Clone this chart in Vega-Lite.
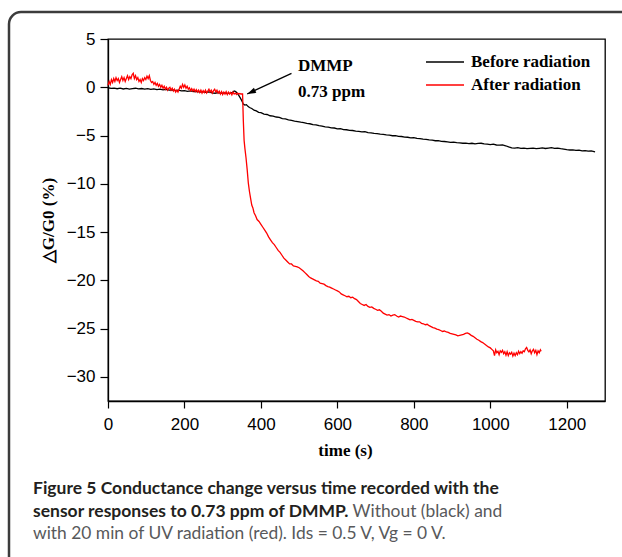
{
  "$schema": "https://vega.github.io/schema/vega-lite/v6.json",
  "width": 497,
  "height": 362,
  "autosize": {"type": "none"},
  "padding": {"left": 108, "top": 39, "right": 17, "bottom": 156},
  "background": "white",
  "config": {
    "view": {"stroke": "#000000", "strokeWidth": 1.3},
    "axis": {
      "domainColor": "#000000", "domainWidth": 1.3,
      "tickColor": "#000000", "tickWidth": 1.2,
      "labelFont": "Liberation Sans", "labelFontSize": 17, "labelColor": "#000000",
      "titleFont": "Liberation Serif", "titleFontSize": 17, "titleFontWeight": "bold", "titleColor": "#000000",
      "grid": false, "labelOverlap": false, "labelFlush": false
    }
  },
  "title": {
    "text": ["Figure 5 Conductance change versus time recorded with the", "sensor responses to 0.73 ppm of DMMP."],
    "subtitle": ["\u200b\u2003\u2003\u2003\u2003\u2003\u2003\u2003\u2003\u2003\u2003\u2003\u2003\u2003\u2003\u2003\u2003\u2003\u2003\u2003\u2003\u2003\u2003\u2003\u2002\u2002\u2009Without (black) and", "with 20 min of UV radiation (red). Ids = 0.5 V, Vg = 0 V."],
    "orient": "bottom", "anchor": "start", "frame": "group",
    "dx": -75, "offset": -90,
    "font": "Lato", "fontSize": 17.5, "fontWeight": "bold", "color": "#231f20", "lineHeight": 22.5,
    "subtitleFont": "Lato", "subtitleFontSize": 17.4, "subtitleFontWeight": "normal", "subtitleColor": "#58595b",
    "subtitleLineHeight": 22.5, "subtitlePadding": -17.5
  },
  "datasets": {
    "curves": [
      {"s":"Before radiation","t":0,"v":-0.05},{"s":"Before radiation","t":8,"v":-0.12},{"s":"Before radiation","t":16,"v":-0.08},{"s":"Before radiation","t":24,"v":-0.15},{"s":"Before radiation","t":32,"v":-0.1},{"s":"Before radiation","t":40,"v":-0.18},{"s":"Before radiation","t":48,"v":-0.12},{"s":"Before radiation","t":56,"v":-0.2},{"s":"Before radiation","t":64,"v":-0.14},{"s":"Before radiation","t":72,"v":-0.1},{"s":"Before radiation","t":80,"v":-0.17},{"s":"Before radiation","t":88,"v":-0.13},{"s":"Before radiation","t":96,"v":-0.2},{"s":"Before radiation","t":104,"v":-0.15},{"s":"Before radiation","t":112,"v":-0.22},{"s":"Before radiation","t":120,"v":-0.16},{"s":"Before radiation","t":128,"v":-0.24},{"s":"Before radiation","t":136,"v":-0.2},{"s":"Before radiation","t":144,"v":-0.27},{"s":"Before radiation","t":152,"v":-0.22},{"s":"Before radiation","t":160,"v":-0.3},{"s":"Before radiation","t":168,"v":-0.26},{"s":"Before radiation","t":176,"v":-0.34},{"s":"Before radiation","t":184,"v":-0.3},{"s":"Before radiation","t":192,"v":-0.38},{"s":"Before radiation","t":200,"v":-0.34},{"s":"Before radiation","t":208,"v":-0.42},{"s":"Before radiation","t":216,"v":-0.38},{"s":"Before radiation","t":224,"v":-0.46},{"s":"Before radiation","t":232,"v":-0.42},{"s":"Before radiation","t":240,"v":-0.5},{"s":"Before radiation","t":248,"v":-0.45},{"s":"Before radiation","t":256,"v":-0.53},{"s":"Before radiation","t":264,"v":-0.48},{"s":"Before radiation","t":272,"v":-0.57},{"s":"Before radiation","t":280,"v":-0.62},{"s":"Before radiation","t":288,"v":-0.56},{"s":"Before radiation","t":296,"v":-0.64},{"s":"Before radiation","t":304,"v":-0.58},{"s":"Before radiation","t":312,"v":-0.66},{"s":"Before radiation","t":320,"v":-0.6},{"s":"Before radiation","t":326,"v":-0.52},{"s":"Before radiation","t":330,"v":-0.38},{"s":"Before radiation","t":334,"v":-0.45},{"s":"Before radiation","t":338,"v":-0.62},{"s":"Before radiation","t":342,"v":-0.85},{"s":"Before radiation","t":346,"v":-1.1},{"s":"Before radiation","t":350,"v":-1.4},{"s":"Before radiation","t":354,"v":-1.75},{"s":"Before radiation","t":358,"v":-1.85},{"s":"Before radiation","t":362,"v":-1.8},{"s":"Before radiation","t":366,"v":-1.98},{"s":"Before radiation","t":370,"v":-2.1},{"s":"Before radiation","t":376,"v":-2.2},{"s":"Before radiation","t":382,"v":-2.38},{"s":"Before radiation","t":388,"v":-2.45},{"s":"Before radiation","t":394,"v":-2.6},{"s":"Before radiation","t":400,"v":-2.62},{"s":"Before radiation","t":408,"v":-2.78},{"s":"Before radiation","t":416,"v":-2.82},{"s":"Before radiation","t":424,"v":-2.95},{"s":"Before radiation","t":432,"v":-2.98},{"s":"Before radiation","t":440,"v":-3.08},{"s":"Before radiation","t":448,"v":-3.12},{"s":"Before radiation","t":456,"v":-3.25},{"s":"Before radiation","t":464,"v":-3.28},{"s":"Before radiation","t":472,"v":-3.38},{"s":"Before radiation","t":480,"v":-3.42},{"s":"Before radiation","t":488,"v":-3.5},{"s":"Before radiation","t":496,"v":-3.55},{"s":"Before radiation","t":504,"v":-3.62},{"s":"Before radiation","t":512,"v":-3.66},{"s":"Before radiation","t":520,"v":-3.75},{"s":"Before radiation","t":528,"v":-3.78},{"s":"Before radiation","t":536,"v":-3.88},{"s":"Before radiation","t":544,"v":-3.9},{"s":"Before radiation","t":552,"v":-3.98},{"s":"Before radiation","t":560,"v":-4.02},{"s":"Before radiation","t":568,"v":-4.1},{"s":"Before radiation","t":576,"v":-4.12},{"s":"Before radiation","t":584,"v":-4.2},{"s":"Before radiation","t":592,"v":-4.22},{"s":"Before radiation","t":600,"v":-4.3},{"s":"Before radiation","t":608,"v":-4.28},{"s":"Before radiation","t":616,"v":-4.38},{"s":"Before radiation","t":624,"v":-4.4},{"s":"Before radiation","t":632,"v":-4.46},{"s":"Before radiation","t":640,"v":-4.48},{"s":"Before radiation","t":648,"v":-4.55},{"s":"Before radiation","t":656,"v":-4.56},{"s":"Before radiation","t":664,"v":-4.62},{"s":"Before radiation","t":672,"v":-4.6},{"s":"Before radiation","t":680,"v":-4.7},{"s":"Before radiation","t":688,"v":-4.72},{"s":"Before radiation","t":696,"v":-4.78},{"s":"Before radiation","t":704,"v":-4.8},{"s":"Before radiation","t":712,"v":-4.86},{"s":"Before radiation","t":720,"v":-4.88},{"s":"Before radiation","t":728,"v":-4.94},{"s":"Before radiation","t":736,"v":-4.96},{"s":"Before radiation","t":744,"v":-5.02},{"s":"Before radiation","t":752,"v":-5.0},{"s":"Before radiation","t":760,"v":-5.08},{"s":"Before radiation","t":768,"v":-5.1},{"s":"Before radiation","t":776,"v":-5.16},{"s":"Before radiation","t":784,"v":-5.18},{"s":"Before radiation","t":792,"v":-5.24},{"s":"Before radiation","t":800,"v":-5.22},{"s":"Before radiation","t":808,"v":-5.3},{"s":"Before radiation","t":816,"v":-5.32},{"s":"Before radiation","t":824,"v":-5.38},{"s":"Before radiation","t":832,"v":-5.4},{"s":"Before radiation","t":840,"v":-5.46},{"s":"Before radiation","t":848,"v":-5.48},{"s":"Before radiation","t":856,"v":-5.54},{"s":"Before radiation","t":864,"v":-5.52},{"s":"Before radiation","t":872,"v":-5.6},{"s":"Before radiation","t":880,"v":-5.62},{"s":"Before radiation","t":888,"v":-5.66},{"s":"Before radiation","t":896,"v":-5.7},{"s":"Before radiation","t":904,"v":-5.68},{"s":"Before radiation","t":912,"v":-5.74},{"s":"Before radiation","t":920,"v":-5.76},{"s":"Before radiation","t":928,"v":-5.8},{"s":"Before radiation","t":936,"v":-5.78},{"s":"Before radiation","t":944,"v":-5.84},{"s":"Before radiation","t":952,"v":-5.8},{"s":"Before radiation","t":960,"v":-5.86},{"s":"Before radiation","t":968,"v":-5.82},{"s":"Before radiation","t":976,"v":-5.8},{"s":"Before radiation","t":984,"v":-5.86},{"s":"Before radiation","t":992,"v":-5.9},{"s":"Before radiation","t":1000,"v":-5.94},{"s":"Before radiation","t":1008,"v":-5.9},{"s":"Before radiation","t":1016,"v":-5.98},{"s":"Before radiation","t":1024,"v":-6.0},{"s":"Before radiation","t":1032,"v":-5.98},{"s":"Before radiation","t":1040,"v":-6.06},{"s":"Before radiation","t":1048,"v":-6.18},{"s":"Before radiation","t":1056,"v":-6.28},{"s":"Before radiation","t":1064,"v":-6.3},{"s":"Before radiation","t":1072,"v":-6.26},{"s":"Before radiation","t":1080,"v":-6.32},{"s":"Before radiation","t":1088,"v":-6.3},{"s":"Before radiation","t":1096,"v":-6.36},{"s":"Before radiation","t":1104,"v":-6.32},{"s":"Before radiation","t":1112,"v":-6.3},{"s":"Before radiation","t":1120,"v":-6.36},{"s":"Before radiation","t":1128,"v":-6.32},{"s":"Before radiation","t":1136,"v":-6.28},{"s":"Before radiation","t":1144,"v":-6.34},{"s":"Before radiation","t":1152,"v":-6.3},{"s":"Before radiation","t":1160,"v":-6.26},{"s":"Before radiation","t":1168,"v":-6.32},{"s":"Before radiation","t":1176,"v":-6.3},{"s":"Before radiation","t":1184,"v":-6.36},{"s":"Before radiation","t":1192,"v":-6.4},{"s":"Before radiation","t":1200,"v":-6.46},{"s":"Before radiation","t":1208,"v":-6.5},{"s":"Before radiation","t":1216,"v":-6.48},{"s":"Before radiation","t":1224,"v":-6.54},{"s":"Before radiation","t":1232,"v":-6.52},{"s":"Before radiation","t":1240,"v":-6.58},{"s":"Before radiation","t":1248,"v":-6.56},{"s":"Before radiation","t":1256,"v":-6.62},{"s":"Before radiation","t":1264,"v":-6.6},{"s":"Before radiation","t":1274,"v":-6.7},
      {"s":"After radiation","t":0,"v":0.2},{"s":"After radiation","t":3,"v":0.6},{"s":"After radiation","t":6,"v":0.3},{"s":"After radiation","t":9,"v":0.8},{"s":"After radiation","t":12,"v":0.5},{"s":"After radiation","t":15,"v":0.9},{"s":"After radiation","t":18,"v":0.6},{"s":"After radiation","t":21,"v":1.0},{"s":"After radiation","t":24,"v":0.7},{"s":"After radiation","t":27,"v":0.9},{"s":"After radiation","t":30,"v":0.5},{"s":"After radiation","t":33,"v":0.8},{"s":"After radiation","t":36,"v":1.1},{"s":"After radiation","t":39,"v":0.7},{"s":"After radiation","t":42,"v":1.0},{"s":"After radiation","t":45,"v":0.6},{"s":"After radiation","t":48,"v":0.9},{"s":"After radiation","t":51,"v":1.2},{"s":"After radiation","t":54,"v":0.8},{"s":"After radiation","t":57,"v":1.1},{"s":"After radiation","t":60,"v":0.9},{"s":"After radiation","t":63,"v":1.3},{"s":"After radiation","t":66,"v":1.45},{"s":"After radiation","t":69,"v":0.9},{"s":"After radiation","t":72,"v":1.2},{"s":"After radiation","t":75,"v":0.8},{"s":"After radiation","t":78,"v":1.0},{"s":"After radiation","t":81,"v":0.6},{"s":"After radiation","t":84,"v":0.8},{"s":"After radiation","t":87,"v":0.5},{"s":"After radiation","t":90,"v":0.9},{"s":"After radiation","t":93,"v":0.7},{"s":"After radiation","t":96,"v":1.0},{"s":"After radiation","t":99,"v":0.8},{"s":"After radiation","t":102,"v":1.15},{"s":"After radiation","t":105,"v":0.9},{"s":"After radiation","t":108,"v":1.2},{"s":"After radiation","t":111,"v":0.7},{"s":"After radiation","t":114,"v":0.5},{"s":"After radiation","t":117,"v":0.6},{"s":"After radiation","t":120,"v":0.3},{"s":"After radiation","t":123,"v":0.5},{"s":"After radiation","t":126,"v":0.2},{"s":"After radiation","t":129,"v":0.4},{"s":"After radiation","t":132,"v":0.1},{"s":"After radiation","t":135,"v":0.3},{"s":"After radiation","t":138,"v":0.0},{"s":"After radiation","t":141,"v":0.2},{"s":"After radiation","t":144,"v":-0.1},{"s":"After radiation","t":147,"v":0.1},{"s":"After radiation","t":150,"v":-0.2},{"s":"After radiation","t":153,"v":0.0},{"s":"After radiation","t":156,"v":-0.3},{"s":"After radiation","t":159,"v":-0.1},{"s":"After radiation","t":162,"v":0.0},{"s":"After radiation","t":165,"v":-0.3},{"s":"After radiation","t":168,"v":-0.1},{"s":"After radiation","t":171,"v":-0.4},{"s":"After radiation","t":174,"v":-0.2},{"s":"After radiation","t":177,"v":-0.5},{"s":"After radiation","t":180,"v":-0.3},{"s":"After radiation","t":183,"v":-0.5},{"s":"After radiation","t":186,"v":-0.2},{"s":"After radiation","t":189,"v":0.1},{"s":"After radiation","t":192,"v":-0.1},{"s":"After radiation","t":195,"v":0.3},{"s":"After radiation","t":198,"v":0.0},{"s":"After radiation","t":201,"v":0.25},{"s":"After radiation","t":204,"v":-0.1},{"s":"After radiation","t":207,"v":0.1},{"s":"After radiation","t":210,"v":-0.2},{"s":"After radiation","t":213,"v":-0.05},{"s":"After radiation","t":216,"v":-0.35},{"s":"After radiation","t":219,"v":-0.15},{"s":"After radiation","t":222,"v":-0.4},{"s":"After radiation","t":225,"v":-0.2},{"s":"After radiation","t":228,"v":-0.45},{"s":"After radiation","t":231,"v":-0.25},{"s":"After radiation","t":234,"v":-0.5},{"s":"After radiation","t":237,"v":-0.3},{"s":"After radiation","t":240,"v":-0.55},{"s":"After radiation","t":243,"v":-0.3},{"s":"After radiation","t":246,"v":-0.6},{"s":"After radiation","t":249,"v":-0.35},{"s":"After radiation","t":252,"v":-0.55},{"s":"After radiation","t":255,"v":-0.3},{"s":"After radiation","t":258,"v":-0.6},{"s":"After radiation","t":261,"v":-0.4},{"s":"After radiation","t":264,"v":-0.2},{"s":"After radiation","t":267,"v":-0.5},{"s":"After radiation","t":270,"v":-0.3},{"s":"After radiation","t":273,"v":-0.6},{"s":"After radiation","t":276,"v":-0.35},{"s":"After radiation","t":279,"v":-0.2},{"s":"After radiation","t":282,"v":-0.5},{"s":"After radiation","t":285,"v":-0.3},{"s":"After radiation","t":288,"v":-0.6},{"s":"After radiation","t":291,"v":-0.4},{"s":"After radiation","t":294,"v":-0.7},{"s":"After radiation","t":297,"v":-0.45},{"s":"After radiation","t":300,"v":-0.75},{"s":"After radiation","t":303,"v":-0.5},{"s":"After radiation","t":306,"v":-0.7},{"s":"After radiation","t":309,"v":-0.45},{"s":"After radiation","t":312,"v":-0.75},{"s":"After radiation","t":315,"v":-0.5},{"s":"After radiation","t":318,"v":-0.7},{"s":"After radiation","t":321,"v":-0.55},{"s":"After radiation","t":324,"v":-0.8},{"s":"After radiation","t":327,"v":-0.5},{"s":"After radiation","t":330,"v":-0.7},{"s":"After radiation","t":333,"v":-0.6},{"s":"After radiation","t":336,"v":-0.75},{"s":"After radiation","t":339,"v":-0.6},{"s":"After radiation","t":342,"v":-0.7},{"s":"After radiation","t":345,"v":-0.65},{"s":"After radiation","t":348,"v":-0.7},{"s":"After radiation","t":352,"v":-0.7},{"s":"After radiation","t":354,"v":-3.5},{"s":"After radiation","t":356,"v":-5.5},{"s":"After radiation","t":358,"v":-6.3},{"s":"After radiation","t":361,"v":-7.3},{"s":"After radiation","t":364,"v":-8.5},{"s":"After radiation","t":367,"v":-9.9},{"s":"After radiation","t":370,"v":-10.8},{"s":"After radiation","t":373,"v":-11.5},{"s":"After radiation","t":376,"v":-12.2},{"s":"After radiation","t":379,"v":-12.5},{"s":"After radiation","t":382,"v":-13.0},{"s":"After radiation","t":386,"v":-13.3},{"s":"After radiation","t":390,"v":-13.7},{"s":"After radiation","t":395,"v":-13.9},{"s":"After radiation","t":400,"v":-14.2},{"s":"After radiation","t":405,"v":-14.5},{"s":"After radiation","t":410,"v":-14.8},{"s":"After radiation","t":415,"v":-15.1},{"s":"After radiation","t":420,"v":-15.5},{"s":"After radiation","t":425,"v":-15.8},{"s":"After radiation","t":430,"v":-16.1},{"s":"After radiation","t":435,"v":-16.3},{"s":"After radiation","t":440,"v":-16.6},{"s":"After radiation","t":445,"v":-16.9},{"s":"After radiation","t":450,"v":-17.1},{"s":"After radiation","t":455,"v":-17.4},{"s":"After radiation","t":460,"v":-17.7},{"s":"After radiation","t":465,"v":-17.9},{"s":"After radiation","t":470,"v":-18.1},{"s":"After radiation","t":475,"v":-18.3},{"s":"After radiation","t":480,"v":-18.3},{"s":"After radiation","t":485,"v":-18.5},{"s":"After radiation","t":490,"v":-18.55},{"s":"After radiation","t":495,"v":-18.6},{"s":"After radiation","t":500,"v":-18.7},{"s":"After radiation","t":505,"v":-18.85},{"s":"After radiation","t":510,"v":-19.0},{"s":"After radiation","t":515,"v":-19.2},{"s":"After radiation","t":520,"v":-19.4},{"s":"After radiation","t":525,"v":-19.6},{"s":"After radiation","t":530,"v":-19.75},{"s":"After radiation","t":535,"v":-19.85},{"s":"After radiation","t":540,"v":-19.95},{"s":"After radiation","t":545,"v":-20.05},{"s":"After radiation","t":550,"v":-20.1},{"s":"After radiation","t":555,"v":-20.3},{"s":"After radiation","t":560,"v":-20.35},{"s":"After radiation","t":565,"v":-20.4},{"s":"After radiation","t":570,"v":-20.55},{"s":"After radiation","t":575,"v":-20.65},{"s":"After radiation","t":580,"v":-20.7},{"s":"After radiation","t":585,"v":-20.8},{"s":"After radiation","t":590,"v":-20.9},{"s":"After radiation","t":595,"v":-21.0},{"s":"After radiation","t":600,"v":-21.1},{"s":"After radiation","t":605,"v":-21.2},{"s":"After radiation","t":610,"v":-21.4},{"s":"After radiation","t":615,"v":-21.5},{"s":"After radiation","t":620,"v":-21.6},{"s":"After radiation","t":625,"v":-21.7},{"s":"After radiation","t":630,"v":-21.65},{"s":"After radiation","t":635,"v":-21.8},{"s":"After radiation","t":640,"v":-21.75},{"s":"After radiation","t":645,"v":-21.9},{"s":"After radiation","t":650,"v":-22.0},{"s":"After radiation","t":655,"v":-22.2},{"s":"After radiation","t":660,"v":-22.4},{"s":"After radiation","t":665,"v":-22.5},{"s":"After radiation","t":670,"v":-22.6},{"s":"After radiation","t":675,"v":-22.5},{"s":"After radiation","t":680,"v":-22.7},{"s":"After radiation","t":685,"v":-22.8},{"s":"After radiation","t":690,"v":-22.75},{"s":"After radiation","t":695,"v":-22.9},{"s":"After radiation","t":700,"v":-23.0},{"s":"After radiation","t":705,"v":-23.1},{"s":"After radiation","t":710,"v":-23.05},{"s":"After radiation","t":715,"v":-23.2},{"s":"After radiation","t":720,"v":-23.4},{"s":"After radiation","t":725,"v":-23.5},{"s":"After radiation","t":730,"v":-23.6},{"s":"After radiation","t":735,"v":-23.55},{"s":"After radiation","t":740,"v":-23.7},{"s":"After radiation","t":745,"v":-23.6},{"s":"After radiation","t":750,"v":-23.55},{"s":"After radiation","t":755,"v":-23.7},{"s":"After radiation","t":760,"v":-23.8},{"s":"After radiation","t":765,"v":-23.7},{"s":"After radiation","t":770,"v":-23.75},{"s":"After radiation","t":775,"v":-23.8},{"s":"After radiation","t":780,"v":-23.9},{"s":"After radiation","t":785,"v":-24.0},{"s":"After radiation","t":790,"v":-24.1},{"s":"After radiation","t":795,"v":-24.05},{"s":"After radiation","t":800,"v":-24.15},{"s":"After radiation","t":805,"v":-24.25},{"s":"After radiation","t":810,"v":-24.3},{"s":"After radiation","t":815,"v":-24.3},{"s":"After radiation","t":820,"v":-24.45},{"s":"After radiation","t":825,"v":-24.5},{"s":"After radiation","t":830,"v":-24.6},{"s":"After radiation","t":835,"v":-24.55},{"s":"After radiation","t":840,"v":-24.7},{"s":"After radiation","t":845,"v":-24.8},{"s":"After radiation","t":850,"v":-24.9},{"s":"After radiation","t":855,"v":-24.95},{"s":"After radiation","t":860,"v":-25.05},{"s":"After radiation","t":865,"v":-25.1},{"s":"After radiation","t":870,"v":-25.2},{"s":"After radiation","t":875,"v":-25.3},{"s":"After radiation","t":880,"v":-25.25},{"s":"After radiation","t":885,"v":-25.35},{"s":"After radiation","t":890,"v":-25.4},{"s":"After radiation","t":895,"v":-25.5},{"s":"After radiation","t":900,"v":-25.55},{"s":"After radiation","t":905,"v":-25.6},{"s":"After radiation","t":910,"v":-25.65},{"s":"After radiation","t":915,"v":-25.75},{"s":"After radiation","t":920,"v":-25.7},{"s":"After radiation","t":925,"v":-25.65},{"s":"After radiation","t":930,"v":-25.6},{"s":"After radiation","t":935,"v":-25.5},{"s":"After radiation","t":940,"v":-25.45},{"s":"After radiation","t":945,"v":-25.55},{"s":"After radiation","t":950,"v":-25.7},{"s":"After radiation","t":955,"v":-25.8},{"s":"After radiation","t":960,"v":-25.95},{"s":"After radiation","t":965,"v":-26.1},{"s":"After radiation","t":970,"v":-26.2},{"s":"After radiation","t":975,"v":-26.35},{"s":"After radiation","t":980,"v":-26.45},{"s":"After radiation","t":985,"v":-26.6},{"s":"After radiation","t":990,"v":-26.75},{"s":"After radiation","t":995,"v":-26.9},{"s":"After radiation","t":1000,"v":-27.0},{"s":"After radiation","t":1004,"v":-27.15},{"s":"After radiation","t":1008,"v":-27.3},{"s":"After radiation","t":1011,"v":-27.8},{"s":"After radiation","t":1014,"v":-27.2},{"s":"After radiation","t":1017,"v":-27.5},{"s":"After radiation","t":1020,"v":-27.35},{"s":"After radiation","t":1023,"v":-27.7},{"s":"After radiation","t":1026,"v":-27.3},{"s":"After radiation","t":1029,"v":-27.45},{"s":"After radiation","t":1032,"v":-27.25},{"s":"After radiation","t":1035,"v":-27.6},{"s":"After radiation","t":1038,"v":-27.4},{"s":"After radiation","t":1041,"v":-27.75},{"s":"After radiation","t":1044,"v":-27.4},{"s":"After radiation","t":1047,"v":-27.8},{"s":"After radiation","t":1050,"v":-27.5},{"s":"After radiation","t":1053,"v":-27.65},{"s":"After radiation","t":1056,"v":-27.45},{"s":"After radiation","t":1059,"v":-27.85},{"s":"After radiation","t":1062,"v":-27.55},{"s":"After radiation","t":1065,"v":-27.8},{"s":"After radiation","t":1068,"v":-27.5},{"s":"After radiation","t":1071,"v":-27.7},{"s":"After radiation","t":1074,"v":-27.35},{"s":"After radiation","t":1077,"v":-27.6},{"s":"After radiation","t":1080,"v":-27.4},{"s":"After radiation","t":1083,"v":-27.55},{"s":"After radiation","t":1086,"v":-27.3},{"s":"After radiation","t":1089,"v":-27.4},{"s":"After radiation","t":1092,"v":-27.1},{"s":"After radiation","t":1095,"v":-26.95},{"s":"After radiation","t":1098,"v":-27.25},{"s":"After radiation","t":1101,"v":-27.4},{"s":"After radiation","t":1104,"v":-27.2},{"s":"After radiation","t":1107,"v":-27.6},{"s":"After radiation","t":1110,"v":-27.3},{"s":"After radiation","t":1113,"v":-27.15},{"s":"After radiation","t":1116,"v":-27.5},{"s":"After radiation","t":1119,"v":-27.25},{"s":"After radiation","t":1122,"v":-27.7},{"s":"After radiation","t":1125,"v":-27.3},{"s":"After radiation","t":1128,"v":-27.5},{"s":"After radiation","t":1131,"v":-27.2},{"s":"After radiation","t":1133,"v":-27.35}
    ],
    "notes": [
      {"label": "DMMP", "t": 497, "v": 2.2},
      {"label": "0.73 ppm", "t": 497, "v": -0.47}
    ],
    "arrow": [
      {"t": 480, "v": 1.44, "t2": 364, "v2": -0.7}
    ]
  },
  "layer": [
    {
      "data": {"values": [{"frame": 1}]},
      "mark": {"type": "rect", "fill": "white", "fillOpacity": 0, "stroke": "#3c3c3c", "strokeWidth": 2.5, "cornerRadius": 12},
      "encoding": {"x": {"value": -99}, "y": {"value": -27}, "x2": {"value": 540}, "y2": {"value": 530}}
    },
    {
      "data": {"name": "curves"},
      "mark": {"type": "line", "strokeWidth": 1.3, "interpolate": "linear"},
      "encoding": {
        "x": {
          "field": "t", "type": "quantitative",
          "scale": {"domain": [0, 1300], "nice": false, "zero": false},
          "axis": {
            "values": [0, 100, 200, 300, 400, 500, 600, 700, 800, 900, 1000, 1100, 1200, 1300],
            "format": "d",
            "labelExpr": "datum.value % 200 === 0 ? datum.label : ''",
            "tickSize": {"condition": {"test": "datum.value % 200 !== 0", "value": 4}, "value": 7},
            "labelPadding": 8,
            "title": "time (s)", "titleX": 237, "titleY": 54, "titleBaseline": "alphabetic", "titleAlign": "center"
          }
        },
        "y": {
          "field": "v", "type": "quantitative",
          "scale": {"domain": [-32.5, 5], "nice": false, "zero": false},
          "axis": {
            "values": [-30, -27.5, -25, -22.5, -20, -17.5, -15, -12.5, -10, -7.5, -5, -2.5, 0, 2.5, 5],
            "labelExpr": "datum.value % 5 === 0 ? datum.label : ''",
            "tickSize": {"condition": {"test": "datum.value % 5 !== 0", "value": 4}, "value": 8},
            "labelPadding": 5,
            "title": "\u25b3G/G0 (%)", "titleX": -55, "titleY": 181, "titleBaseline": "alphabetic", "titleAlign": "center", "titleAngle": -90
          }
        },
        "color": {
          "field": "s", "type": "nominal",
          "scale": {"domain": ["Before radiation", "After radiation"], "range": ["#000000", "#ff0000"]},
          "legend": {
            "orient": "none", "legendX": 317, "legendY": 11.7, "title": null,
            "symbolType": "stroke", "symbolSize": 1444, "symbolStrokeWidth": 1.5,
            "labelFont": "Liberation Serif", "labelFontWeight": "bold", "labelFontSize": 17, "labelColor": "#000000",
            "labelOffset": 6, "clipHeight": 22.6, "rowPadding": 0, "padding": 0
          }
        }
      }
    },
    {
      "data": {"name": "arrow"},
      "mark": {"type": "rule", "color": "#000000", "strokeWidth": 1.3},
      "encoding": {
        "x": {"field": "t", "type": "quantitative"},
        "y": {"field": "v", "type": "quantitative"},
        "x2": {"field": "t2"},
        "y2": {"field": "v2"}
      }
    },
    {
      "data": {"name": "arrow"},
      "mark": {"type": "point", "shape": "M0,0L-0.7,2.2L0.7,2.2Z", "filled": true, "color": "#000000", "opacity": 1, "size": 64, "angle": 245},
      "encoding": {
        "x": {"field": "t2", "type": "quantitative"},
        "y": {"field": "v2", "type": "quantitative"}
      }
    },
    {
      "data": {"name": "notes"},
      "mark": {"type": "text", "align": "left", "baseline": "middle", "font": "Liberation Serif", "fontWeight": "bold", "fontSize": 17, "color": "#000000"},
      "encoding": {
        "x": {"field": "t", "type": "quantitative"},
        "y": {"field": "v", "type": "quantitative"},
        "text": {"field": "label"}
      }
    }
  ]
}
